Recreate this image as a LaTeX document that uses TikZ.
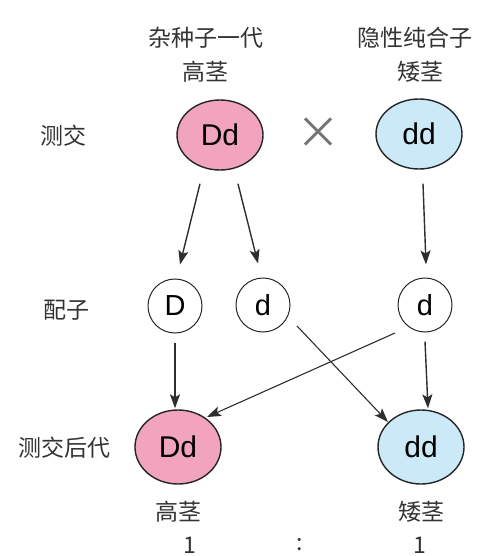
\documentclass[tikz,border=0pt]{standalone}
\usepackage{fontspec}
\setmainfont{Liberation Sans}
\newfontfamily\cjk{Noto Sans CJK SC}
\usetikzlibrary{arrows.meta,calc,shapes.geometric}
\definecolor{pinkfill}{HTML}{F2A3BE}
\definecolor{bluefill}{HTML}{CBE9F6}
\definecolor{lineg}{HTML}{2E2E2E}
\tikzset{
  lbl/.style={font=\cjk\fontsize{23}{26}\selectfont, text=black!80},
  geno/.style={ellipse, draw=black!85, line width=1.4pt, minimum width=86pt, minimum height=70pt, inner sep=0pt, font=\fontsize{30}{30}\selectfont},
  gam/.style={circle, draw=black!85, line width=1pt, minimum size=54pt, inner sep=0pt, font=\fontsize{29}{30}\selectfont},
  arr/.style={-{Stealth[length=14pt,width=10pt,inset=3pt]}, draw=lineg, line width=1.4pt},
  thinarr/.style={-{Stealth[length=14pt,width=10pt,inset=3pt]}, draw=lineg, line width=1.1pt}
}
\begin{document}
\begin{tikzpicture}[x=1pt,y=-1pt]
\useasboundingbox (0,0) rectangle (481,556);
% headings
\node[lbl] (h1) at (206,38) {杂种子一代};
\node[lbl] (h1b) at (205,72) {高茎};
\node[lbl] (h2) at (415,38) {隐性纯合子};
\node[lbl] (h2b) at (420,72) {矮茎};
% row labels
\node[lbl] (r1) at (63,136) {测交};
\node[lbl] (r2) at (66,310) {配子};
\node[lbl] (r3) at (64,448) {测交后代};
% parents
\node[geno, fill=pinkfill] (P1) at (220,135) {Dd};
\node[font=\fontsize{44}{44}\selectfont\cjk, text=black!55] (x) at (318,133) {×};
\node[geno, fill=bluefill] (P2) at (419,134) {dd};
% gametes
\node[gam] (g1) at (175,306) {D};
\node[gam] (g2) at (263,305) {d};
\node[gam] (g3) at (425,305) {d};
% offspring
\node[geno, fill=pinkfill, minimum height=74pt] (O1) at (178,447) {Dd};
\node[geno, fill=bluefill, minimum height=74pt] (O2) at (421,447) {dd};
\node[lbl] (o1) at (178,512) {高茎};
\node[lbl] (o2) at (421,512) {矮茎};
\node[lbl] (n1) at (190,545) {1};
\node[lbl] (n2) at (300,545) {:};
\node[lbl] (n3) at (420,545) {1};
% arrows
\draw[arr] ([xshift=-20pt,yshift=-13pt]P1.south) -- ([xshift=5pt,yshift=14pt]g1.north);
\draw[arr] ([xshift=18pt,yshift=-13pt]P1.south) -- ([xshift=-5pt,yshift=14pt]g2.north);
\draw[arr] ([xshift=4pt,yshift=-14pt]P2.south) -- ([xshift=1pt,yshift=13pt]g3.north);
\draw[arr] ([yshift=-9pt]g1.south) -- ([xshift=-3pt,yshift=1pt]O1.north);
\draw[arr] ([yshift=-9pt]g3.south) -- ([xshift=7pt,yshift=1pt]O2.north);
\draw[thinarr] ($(g2)+(34,21)$) -- ($(O2)+(-33,-25)$);
\draw[thinarr] ($(g3)+(-30,28)$) -- ($(O1)+(29,-30)$);
\end{tikzpicture}
\end{document}
